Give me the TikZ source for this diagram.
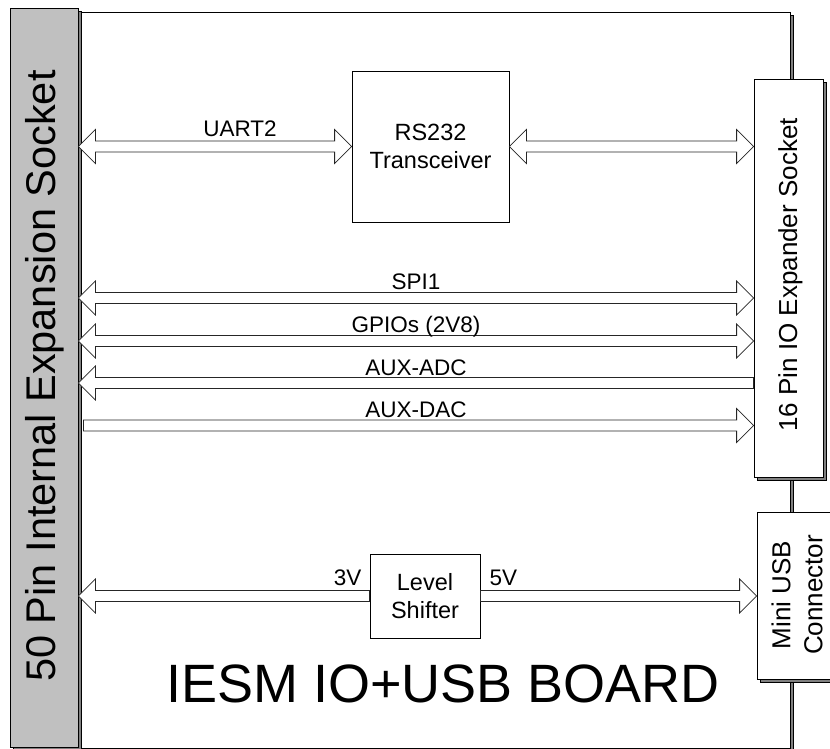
\documentclass[tikz,border=0pt]{standalone}
\usepackage{fontspec}
\setmainfont{Liberation Sans}
\usetikzlibrary{calc, shadows}
\definecolor{sockgray}{RGB}{192,192,192}
\definecolor{edgegray}{RGB}{128,128,128}

\tikzset{
  bevel/.style={drop shadow={shadow xshift=3pt, shadow yshift=-3pt,
      fill=edgegray, draw=black, line width=0.5pt, opacity=1}},
  part/.style={draw=black, line width=0.8pt, fill=white, inner sep=0pt},
  bus/.style={draw=black!85, line width=0.8pt, fill=white, line join=miter},
  buslabel/.style={anchor=base, font=\fontsize{22.5}{27}\selectfont},
  boxtext/.style={align=center, font=\fontsize{23.5}{28.5}\selectfont},
}

% hollow bus arrows: head on both ends, on the left end, on the right end
\newcommand{\busboth}[2]{%
  \coordinate (bA) at (#1); \coordinate (bB) at (#2);
  \draw[bus] (bA) -- ++(17,-17) -- ++(0,11.5) -- ($(bB)+(-17,-5.5)$)
    -- ++(0,-11.5) -- (bB) -- ++(-17,17) -- ++(0,-11.5)
    -- ($(bA)+(17,5.5)$) -- ++(0,11.5) -- cycle;}
\newcommand{\busleft}[2]{%
  \coordinate (bA) at (#1); \coordinate (bB) at (#2);
  \draw[bus] (bA) -- ++(17,-17) -- ++(0,11.5) -- ($(bB)+(0,-5.5)$)
    -- ($(bB)+(0,5.5)$) -- ($(bA)+(17,5.5)$) -- ++(0,11.5) -- cycle;}
\newcommand{\busright}[2]{%
  \coordinate (bA) at (#1); \coordinate (bB) at (#2);
  \draw[bus] ($(bA)+(0,-5.5)$) -- ($(bB)+(-17,-5.5)$) -- ++(0,-11.5)
    -- (bB) -- ++(-17,17) -- ++(0,-11.5) -- ($(bA)+(0,5.5)$) -- cycle;}

\begin{document}
\begin{tikzpicture}[x=1pt, y=-1pt]
  \useasboundingbox (0,0) rectangle (830,749);
  \clip (0,0) rectangle (830,749);

  % board outline
  \draw[part, bevel] (78,12) rectangle (790,748);

  % sockets and connectors
  \node[part, bevel, fill=sockgray, minimum width=68, minimum height=739] (sock) at (44,377.5) {};
  \node[rotate=90, anchor=base, font=\fontsize{41.5}{48}\selectfont] (socktext) at (55,376)
    {50 Pin Internal Expansion Socket};
  \node[part, bevel, minimum width=69, minimum height=398] (exp) at (788.5,278) {};
  \node[rotate=90, anchor=base, font=\fontsize{26}{32}\selectfont] (exptext) at (797,275)
    {16 Pin IO Expander Socket};
  \node[part, bevel, minimum width=80, minimum height=167] (usb) at (797,595.5) {};
  \node[rotate=90, align=center, font=\fontsize{26}{32}\selectfont] (usbtext) at (797,595)
    {Mini USB\\Connector};

  % chips
  \node[part, boxtext, minimum width=157, minimum height=151] (rs) at (430.5,146.5)
    {RS232\\Transceiver};
  \node[part, boxtext, minimum width=110, minimum height=84] (ls) at (425,596)
    {Level\\Shifter};

  % buses
  \coordinate (spiY) at (0,298);
  \coordinate (gpioY) at (0,341);
  \coordinate (adcY) at (0,383);
  \coordinate (dacY) at (0,425.5);
  \busboth{sock.east |- rs.west}{rs.west}
  \busboth{rs.east}{exp.west |- rs.east}
  \busboth{sock.east |- spiY}{exp.west |- spiY}
  \busboth{sock.east |- gpioY}{exp.west |- gpioY}
  \busleft{sock.east |- adcY}{exp.west |- adcY}
  \busright{$(sock.east |- dacY)+(5,0)$}{exp.west |- dacY}
  \busleft{sock.east |- ls.west}{ls.west}
  \busright{ls.east}{usb.west |- ls.east}

  % labels
  \node[buslabel] (luart) at (240,137) {UART2};
  \node[buslabel] (lspi) at (416,289) {SPI1};
  \node[buslabel] (lgpio) at (416,332) {GPIOs (2V8)};
  \node[buslabel] (ladc) at (416,375) {AUX-ADC};
  \node[buslabel] (ldac) at (416,417) {AUX-DAC};
  \node[buslabel, anchor=base east] (l3v) at (365,585) {3V};
  \node[buslabel, anchor=base west] (l5v) at (486,585) {5V};

  \node[anchor=base, font=\fontsize{54}{60}\selectfont] (title) at (443,702) {IESM IO+USB BOARD};
\end{tikzpicture}
\end{document}
